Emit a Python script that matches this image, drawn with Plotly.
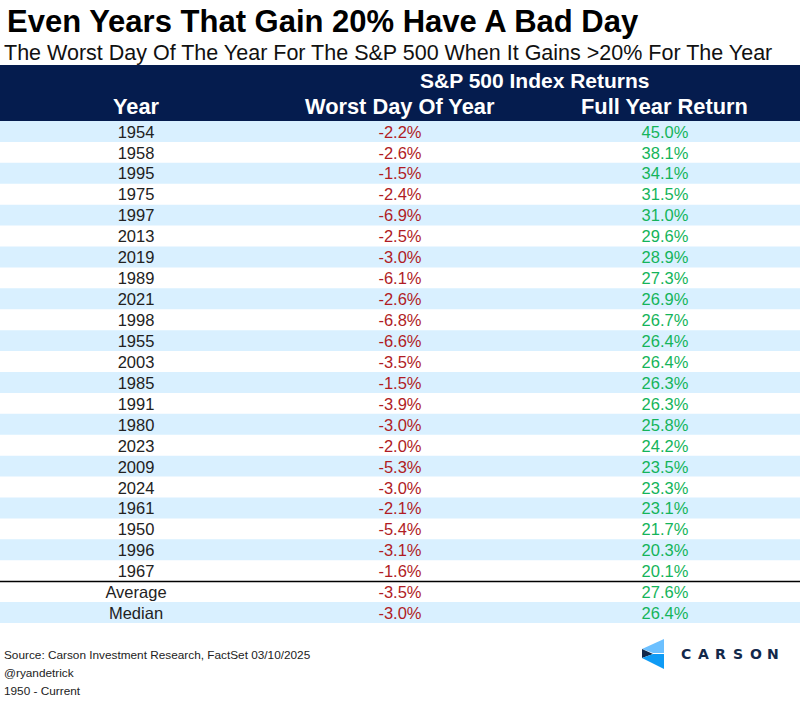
import plotly.graph_objects as go

# table data
years = ["1954", "1958", "1995", "1975", "1997", "2013", "2019", "1989", "2021", "1998", "1955",
         "2003", "1985", "1991", "1980", "2023", "2009", "2024", "1961", "1950", "1996", "1967",
         "Average", "Median"]
worst_day = ["-2.2%", "-2.6%", "-1.5%", "-2.4%", "-6.9%", "-2.5%", "-3.0%", "-6.1%", "-2.6%", "-6.8%", "-6.6%",
             "-3.5%", "-1.5%", "-3.9%", "-3.0%", "-2.0%", "-5.3%", "-3.0%", "-2.1%", "-5.4%", "-3.1%", "-1.6%",
             "-3.5%", "-3.0%"]
full_year = ["45.0%", "38.1%", "34.1%", "31.5%", "31.0%", "29.6%", "28.9%", "27.3%", "26.9%", "26.7%", "26.4%",
             "26.4%", "26.3%", "26.3%", "25.8%", "24.2%", "23.5%", "23.3%", "23.1%", "21.7%", "20.3%", "20.1%",
             "27.6%", "26.4%"]
headers = ["Year", "Worst Day Of Year", "Full Year Return"]
logo_letters = list("CARSON")

W, H = 800, 702
NAVY = "#051c4e"
LIGHT = "#d9f0ff"
INK = "#12284a"
FONT = "Liberation Sans"
COL_X = [136, 400, 665]  # column centres, x axis runs in pixels


def px(x):
    return x / W


def py(y):
    return 1 - y / H


def poly(points, color):
    path = "M " + " L ".join(f"{px(a):.4f},{py(b):.4f}" for a, b in points) + " Z"
    return dict(type="path", xref="paper", yref="paper", path=path, fillcolor=color, line_width=0, layer="above")


def label(x, y, text, size, color="black", bold=False, anchor="left", family=FONT):
    if bold:
        text = f"<b>{text}</b>"
    return dict(x=px(x), y=py(y), xref="paper", yref="paper", text=text, showarrow=False, xanchor=anchor,
                yanchor="middle", align=anchor, font=dict(family=family, size=size, color=color))


rows = list(range(len(years)))
shaded = [r for r in rows[:22] if r % 2 == 0] + [rows[-1]]

fig = go.Figure()
# light blue stripes
fig.add_trace(go.Bar(y=shaded, x=[W] * len(shaded), base=0, width=1, orientation="h",
                     marker=dict(color=LIGHT, line_width=0), hoverinfo="skip"))

# text sits on y2, a couple of pixels below the stripes axis so it centres in the bands
columns = [(years, "#222222"), (worst_day, "#b01c24"), (full_year, "#14b45a")]
for cx, (values, color) in zip(COL_X, columns):
    fig.add_trace(go.Scatter(x=[cx] * len(values), y=rows, yaxis="y2", text=values, mode="text", cliponaxis=False,
                             textposition="middle center", hoverinfo="skip",
                             textfont=dict(family=FONT, size=16.5, color=color)))

notes = [
    label(5, 21, "Even Years That Gain 20% Have A Bad Day", 31, bold=True),
    label(1.5, 53, "The Worst Day Of The Year For The S&P 500 When It Gains &gt;20% For The Year", 21.5, color="#111111"),
    label(535, 80, "S&P 500 Index Returns", 21, color="white", bold=True, anchor="center"),
    label(2, 655, "Source: Carson Investment Research, FactSet 03/10/2025", 11.8, color="#222222"),
    label(2, 673, "@ryandetrick", 11.8, color="#222222"),
    label(2, 691, "1950 - Current", 11.8, color="#222222"),
]
for x, h in zip([136, 400, 664], headers):
    notes.append(label(x, 107, h, 21.8, color="white", bold=True, anchor="center"))
for x, letter in zip([686, 703, 720, 737.5, 755.5, 773], logo_letters):
    notes.append(label(x, 654, letter, 14, color=INK, bold=True, anchor="center", family="DejaVu Sans"))

fig.update_layout(
    width=W, height=H, margin=dict(l=0, r=0, t=0, b=0), paper_bgcolor="white", plot_bgcolor="rgba(0,0,0,0)",
    showlegend=False,
    xaxis=dict(range=[0, W], domain=[0, 1], visible=False, fixedrange=True),
    yaxis=dict(range=[23.5, -0.5], domain=[py(623), py(121)], visible=False, fixedrange=True),
    yaxis2=dict(range=[23.5, -0.5], domain=[py(625.5), py(123)], visible=False, fixedrange=True,
                anchor="x"),
    shapes=[
        dict(type="rect", xref="paper", yref="paper", x0=0, x1=1, y0=py(121), y1=py(65),
             fillcolor=NAVY, line_width=0, layer="below"),
        dict(type="line", xref="paper", yref="paper", x0=0, x1=1, y0=py(581.5), y1=py(581.5),
             line=dict(color="black", width=1.5), layer="above"),
        poly([(642, 649), (664, 639), (664, 653), (653, 653)], "#6cc0ff"),
        poly([(642, 649), (653, 654), (642, 658)], INK),
        poly([(642, 658), (653, 654), (664, 654), (664, 669)], "#0f9bf5"),
    ],
    annotations=notes,
)

fig.write_html("out.html", config=dict(displayModeBar=False), post_script="document.body.style.margin = '0';")
